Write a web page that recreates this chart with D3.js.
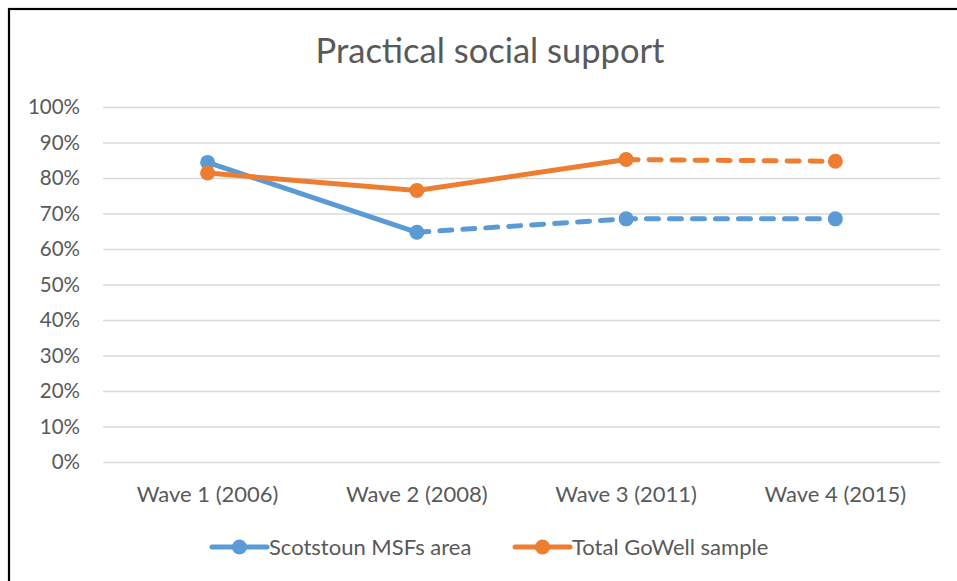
<!DOCTYPE html>
<html>
<head>
<meta charset="utf-8">
<script src="https://cdn.jsdelivr.net/npm/d3@7"></script>
<style>
  html, body { margin: 0; padding: 0; background: #fff; }
  svg { display: block; }
  text { font-family: Lato, "Open Sans", sans-serif; fill: #595959; }
</style>
</head>
<body>
<svg id="chart" width="957" height="581"></svg>
<script>
// ---- data ----
const title = "Practical social support";
const categories = ["Wave 1 (2006)", "Wave 2 (2008)", "Wave 3 (2011)", "Wave 4 (2015)"];
const yTicks = [0, 10, 20, 30, 40, 50, 60, 70, 80, 90, 100];
const seriesNames = ["Scotstoun MSFs area", "Total GoWell sample"];
const scotstoun = [84.4, 64.7, 68.5, 68.5];
const gowell = [81.4, 76.5, 85.2, 84.7];
// index of the point after which the line becomes dashed
const dashFrom = [1, 2];
const colors = ["#5B9BD5", "#ED7D31"];

// ---- layout ----
const plot = { left: 103, right: 940, top: 107, bottom: 462 };
const svg = d3.select("#chart");

// border
svg.append("rect").attr("x", 9).attr("y", 9).attr("width", 960).attr("height", 590)
  .attr("fill", "none").attr("stroke", "#000").attr("stroke-width", 2.2);

// title
svg.append("text").attr("x", 490).attr("y", 63).attr("text-anchor", "middle")
  .style("font-size", "34.5px").text(title);

const x = d3.scaleBand().domain(categories).range([plot.left, plot.right]);
const y = d3.scaleLinear().domain([0, 100]).range([plot.bottom, plot.top]);

// gridlines + y labels
const yAxis = d3.axisLeft(y).tickValues(yTicks).tickFormat(d => d + "%")
  .tickSize(-(plot.right - plot.left)).tickPadding(23);
const gy = svg.append("g").attr("transform", `translate(${plot.left},0)`).call(yAxis);
gy.select(".domain").remove();
gy.selectAll(".tick line").attr("stroke", "#d9d9d9").attr("stroke-width", 1.5);
gy.selectAll(".tick text").style("font-size", "20.5px").style("font-family", "Lato, sans-serif")
  .attr("fill", "#595959");

// x axis labels
const xAxis = d3.axisBottom(x).tickSize(0).tickPadding(24);
const gx = svg.append("g").attr("transform", `translate(0,${plot.bottom})`).call(xAxis);
gx.select(".domain").remove();
gx.selectAll(".tick text").style("font-size", "22px").style("font-family", "Lato, sans-serif")
  .attr("fill", "#595959");

// series
const allSeries = [scotstoun, gowell];
const cx = (c) => x(c) + x.bandwidth() / 2;
const line = d3.line().x(d => cx(d.c)).y(d => y(d.v));

allSeries.forEach((vals, si) => {
  const pts = vals.map((v, i) => ({ c: categories[i], v }));
  const solid = pts.slice(0, dashFrom[si] + 1);
  const dashed = pts.slice(dashFrom[si]);
  const g = svg.append("g");
  g.append("path").attr("d", line(solid)).attr("fill", "none")
    .attr("stroke", colors[si]).attr("stroke-width", 5).attr("stroke-linecap", "round")
    .attr("stroke-linejoin", "round");
  g.append("path").attr("d", line(dashed)).attr("fill", "none")
    .attr("stroke", colors[si]).attr("stroke-width", 5).attr("stroke-linecap", "round")
    .attr("stroke-dasharray", "12 11");
  g.selectAll("circle").data(pts).join("circle")
    .attr("cx", d => cx(d.c)).attr("cy", d => y(d.v)).attr("r", 7.5)
    .attr("fill", colors[si]);
});

// legend
const legendItems = [{ x: 212 }, { x: 515 }];
seriesNames.forEach((name, i) => {
  const lx = legendItems[i].x, ly = 547;
  const g = svg.append("g");
  g.append("line").attr("x1", lx).attr("x2", lx + 55).attr("y1", ly).attr("y2", ly)
    .attr("stroke", colors[i]).attr("stroke-width", 5).attr("stroke-linecap", "round");
  g.append("circle").attr("cx", lx + 27.5).attr("cy", ly).attr("r", 7.5).attr("fill", colors[i]);
  g.append("text").attr("x", lx + 57).attr("y", ly + 8).style("font-size", "22px").text(name);
});
</script>
</body>
</html>
